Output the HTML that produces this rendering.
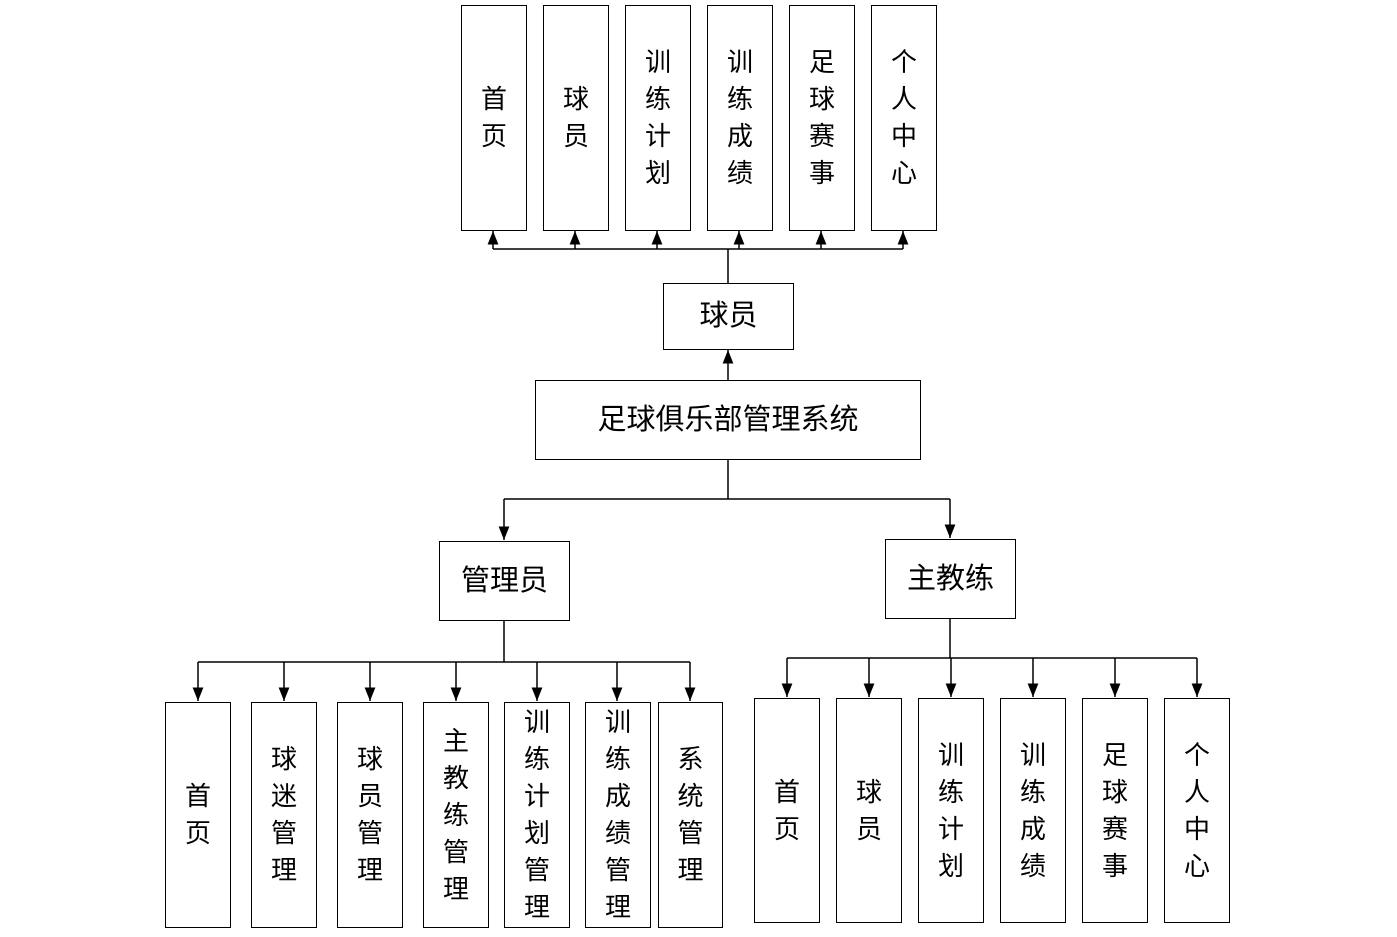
<!DOCTYPE html>
<html><head><meta charset="utf-8"><style>
body{margin:0;background:#fff;width:1397px;height:937px;position:relative;overflow:hidden;font-family:"Liberation Sans","Noto Sans CJK SC",sans-serif;}
.b{position:absolute;border:1px solid #000;box-sizing:border-box;display:flex;align-items:center;justify-content:center;text-align:center;font-size:26px;line-height:37px;color:#000;background:#fff;}
.h{font-size:29px;}
svg{position:absolute;left:0;top:0;}
</style></head><body>
<svg width="1397" height="937">
<defs><marker id="a" viewBox="0 0 10 10" refX="10" refY="5" markerWidth="9" markerHeight="9" orient="auto"><path d="M0,1 L10,5 L0,9 z" fill="#000"/></marker></defs>
<g stroke="#000" stroke-width="1.5" fill="none">
<line x1="728" y1="283" x2="728" y2="249"/>
<line x1="493" y1="249" x2="903" y2="249"/>
<line x1="493" y1="249" x2="493" y2="231" marker-end="url(#a)"/>
<line x1="575" y1="249" x2="575" y2="231" marker-end="url(#a)"/>
<line x1="657" y1="249" x2="657" y2="231" marker-end="url(#a)"/>
<line x1="739" y1="249" x2="739" y2="231" marker-end="url(#a)"/>
<line x1="821" y1="249" x2="821" y2="231" marker-end="url(#a)"/>
<line x1="903" y1="249" x2="903" y2="231" marker-end="url(#a)"/>
<line x1="728" y1="380" x2="728" y2="350" marker-end="url(#a)"/>
<line x1="728" y1="459" x2="728" y2="499"/>
<line x1="504" y1="499" x2="950" y2="499"/>
<line x1="504" y1="499" x2="504" y2="540" marker-end="url(#a)"/>
<line x1="950" y1="499" x2="950" y2="538" marker-end="url(#a)"/>
<line x1="504" y1="620" x2="504" y2="662"/>
<line x1="198" y1="662" x2="690" y2="662"/>
<line x1="198" y1="662" x2="198" y2="701" marker-end="url(#a)"/>
<line x1="284" y1="662" x2="284" y2="701" marker-end="url(#a)"/>
<line x1="370" y1="662" x2="370" y2="701" marker-end="url(#a)"/>
<line x1="456" y1="662" x2="456" y2="701" marker-end="url(#a)"/>
<line x1="537" y1="662" x2="537" y2="701" marker-end="url(#a)"/>
<line x1="617" y1="662" x2="617" y2="701" marker-end="url(#a)"/>
<line x1="690" y1="662" x2="690" y2="701" marker-end="url(#a)"/>
<line x1="950" y1="618" x2="950" y2="658"/>
<line x1="787" y1="658" x2="1197" y2="658"/>
<line x1="787" y1="658" x2="787" y2="697" marker-end="url(#a)"/>
<line x1="869" y1="658" x2="869" y2="697" marker-end="url(#a)"/>
<line x1="951" y1="658" x2="951" y2="697" marker-end="url(#a)"/>
<line x1="1033" y1="658" x2="1033" y2="697" marker-end="url(#a)"/>
<line x1="1115" y1="658" x2="1115" y2="697" marker-end="url(#a)"/>
<line x1="1197" y1="658" x2="1197" y2="697" marker-end="url(#a)"/>
</g></svg>

<div class="b" style="left:461px;top:5px;width:66px;height:226px">首<br>页</div>
<div class="b" style="left:543px;top:5px;width:66px;height:226px">球<br>员</div>
<div class="b" style="left:625px;top:5px;width:66px;height:226px">训<br>练<br>计<br>划</div>
<div class="b" style="left:707px;top:5px;width:66px;height:226px">训<br>练<br>成<br>绩</div>
<div class="b" style="left:789px;top:5px;width:66px;height:226px">足<br>球<br>赛<br>事</div>
<div class="b" style="left:871px;top:5px;width:66px;height:226px">个<br>人<br>中<br>心</div>

<div class="b h" style="left:663px;top:283px;width:131px;height:67px">球员</div>
<div class="b h" style="left:535px;top:380px;width:386px;height:80px">足球俱乐部管理系统</div>
<div class="b h" style="left:439px;top:541px;width:131px;height:80px">管理员</div>
<div class="b h" style="left:885px;top:539px;width:131px;height:80px">主教练</div>

<div class="b" style="left:165px;top:702px;width:66px;height:226px">首<br>页</div>
<div class="b" style="left:251px;top:702px;width:66px;height:226px">球<br>迷<br>管<br>理</div>
<div class="b" style="left:337px;top:702px;width:66px;height:226px">球<br>员<br>管<br>理</div>
<div class="b" style="left:423px;top:702px;width:66px;height:226px">主<br>教<br>练<br>管<br>理</div>
<div class="b" style="left:504px;top:702px;width:66px;height:226px">训<br>练<br>计<br>划<br>管<br>理</div>
<div class="b" style="left:585px;top:702px;width:66px;height:226px">训<br>练<br>成<br>绩<br>管<br>理</div>
<div class="b" style="left:658px;top:702px;width:65px;height:226px">系<br>统<br>管<br>理</div>

<div class="b" style="left:754px;top:698px;width:66px;height:225px">首<br>页</div>
<div class="b" style="left:836px;top:698px;width:66px;height:225px">球<br>员</div>
<div class="b" style="left:918px;top:698px;width:66px;height:225px">训<br>练<br>计<br>划</div>
<div class="b" style="left:1000px;top:698px;width:66px;height:225px">训<br>练<br>成<br>绩</div>
<div class="b" style="left:1082px;top:698px;width:66px;height:225px">足<br>球<br>赛<br>事</div>
<div class="b" style="left:1164px;top:698px;width:66px;height:225px">个<br>人<br>中<br>心</div>
</body></html>
